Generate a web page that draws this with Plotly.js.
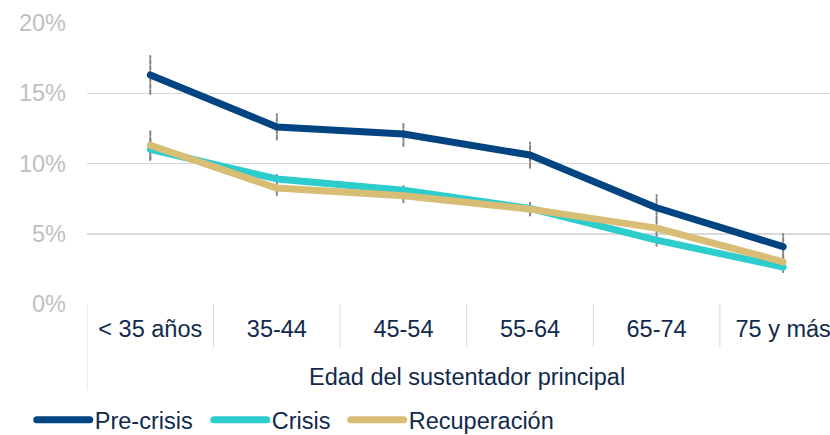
<!DOCTYPE html>
<html>
<head>
<meta charset="utf-8">
<script src="https://cdn.plot.ly/plotly-3.0.1.min.js"></script>
<style>
  html, body { margin: 0; padding: 0; background: #fff; }
  #chart { width: 830px; height: 435px; }
  .js-line, .legendlines path { stroke-linecap: round !important; stroke-linejoin: round !important; }
</style>
</head>
<body>
<div id="chart"></div>
<script>
// ---- data ----
const categories = ["< 35 años", "35-44", "45-54", "55-64", "65-74", "75 y más"];
const preCrisis   = [16.3, 12.6, 12.1, 10.6, 6.85, 4.08];
const crisis      = [11.0, 8.9, 8.1, 6.8, 4.55, 2.63];
const recuperacion = [11.3, 8.25, 7.7, 6.75, 5.4, 3.0];
const preCrisisErr   = [1.35, 0.9, 0.85, 0.9, 0.9, 0.9];
const crisisErr      = [0.75, 0.3, 0.3, 0.4, 0.4, 0.35];
const recuperacionErr = [1.0, 0.5, 0.45, 0.45, 0.5, 0.5];
const yTicks = [0, 5, 10, 15, 20];
const yTickLabels = ["0%", "5%", "10%", "15%", "20%"];
const xAxisTitle = "Edad del sustentador principal";
const seriesNames = ["Pre-crisis", "Crisis", "Recuperación"];

const colors = ["#004481", "#2DCCCD", "#D8BE75"];
const textColor = "#102A4C";
const font = "Liberation Sans, Arial, sans-serif";

function errTrace(vals, errs) {
  const xs = [], ys = [];
  vals.forEach((v, i) => {
    xs.push(categories[i], categories[i], null);
    ys.push(v - errs[i], v + errs[i], null);
  });
  return {
    x: xs, y: ys, type: "scatter", mode: "lines", showlegend: false, hoverinfo: "skip",
    line: { color: "#858585", width: 2, dash: "4px,2px" }, connectgaps: false
  };
}

const series = [preCrisis, crisis, recuperacion];
const errs = [preCrisisErr, crisisErr, recuperacionErr];
const legendIds = ["legend", "legend2", "legend3"];
const traces = [];
series.forEach((s, k) => traces.push(errTrace(s, errs[k])));
const lineTraces = series.map((s, k) => ({
  x: categories, y: s, type: "scatter", mode: "lines", name: seriesNames[k],
  legend: legendIds[k],
  line: { color: colors[k], width: 7 }
}));
// draw order: crisis, recuperacion, pre-crisis on top
traces.push(lineTraces[1], lineTraces[2], lineTraces[0]);

const plotTop = 23, plotBottom = 304, plotH = plotBottom - plotTop;
const py = px => (plotBottom - px) / plotH;

const shapes = [];
for (let i = 0; i < categories.length; i++) {
  shapes.push({
    type: "line", xref: "x", yref: "paper",
    x0: i - 0.5, x1: i - 0.5, y0: 0, y1: i === 0 ? py(390) : py(347),
    line: { color: "#D9D9D9", width: 1 }
  });
}

function legendAt(px) {
  return {
    orientation: "h", xref: "container", yref: "container",
    x: px / 830, y: 1 - 420 / 435, xanchor: "left", yanchor: "middle",
    font: { family: font, size: 23.5, color: textColor },
    itemwidth: 53, bgcolor: "rgba(0,0,0,0)"
  };
}

const layout = {
  width: 830, height: 435,
  margin: { l: 87, r: 0, t: plotTop, b: 435 - plotBottom, pad: 0 },
  paper_bgcolor: "#fff", plot_bgcolor: "#fff",
  font: { family: font, size: 23.5, color: textColor },
  showlegend: true,
  legend: legendAt(31.75),
  legend2: legendAt(208.75),
  legend3: legendAt(345.75),
  xaxis: {
    type: "category", categoryorder: "array", categoryarray: categories,
    range: [-0.5, 5.37], showgrid: false, zeroline: false,
    showline: false, ticks: "", ticklabelstandoff: 8,
    tickfont: { family: font, size: 23.5, color: textColor }, fixedrange: true
  },
  yaxis: {
    range: [0, 20], tickvals: yTicks, ticktext: yTickLabels,
    showgrid: true, gridcolor: "#D9D9D9", gridwidth: 1.5,
    zeroline: false, showline: false, ticks: "", ticklabelstandoff: 20,
    tickfont: { family: font, size: 23.5, color: "#BFBFBF" }, fixedrange: true
  },
  shapes: shapes,
  annotations: [{
    text: xAxisTitle, xref: "x", yref: "paper", x: (categories.length - 1) / 2, y: py(377),
    xanchor: "center", yanchor: "middle", showarrow: false,
    font: { family: font, size: 23.5, color: textColor }
  }]
};

Plotly.newPlot("chart", traces, layout, { displayModeBar: false, staticPlot: true });
</script>
</body>
</html>
